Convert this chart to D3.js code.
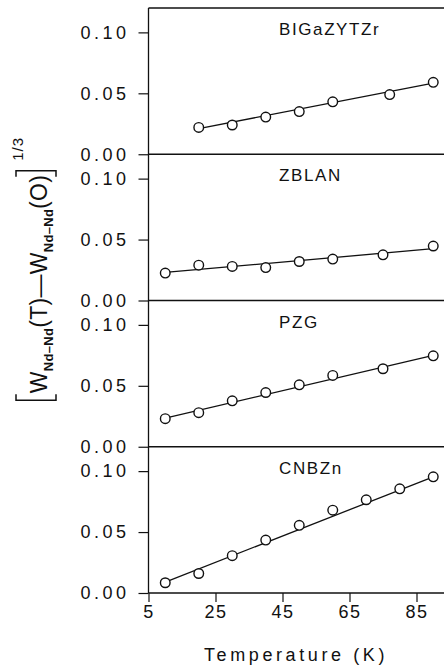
<!DOCTYPE html>
<html>
<head>
<meta charset="utf-8">
<script src="https://cdn.jsdelivr.net/npm/d3@7"></script>
<style>
body{margin:0;background:#fff;}
svg{display:block;}
text{font-family:"Liberation Sans",Arial,sans-serif;fill:#111;}
</style>
</head>
<body>
<div id="canvas"></div>
<script>
// panel names, top to bottom
var glassNames = ['BIGaZYTZr','ZBLAN','PZG','CNBZn'];

// temperatures (K) and [W(T)-W(0)]^1/3
var tBIGaZYTZr = [20,30,40,50,60,77,90];
var wBIGaZYTZr = [0.022,0.024,0.0305,0.035,0.043,0.049,0.059];
var tZBLAN = [10,20,30,40,50,60,75,90];
var wZBLAN = [0.0225,0.029,0.028,0.027,0.032,0.034,0.0375,0.0447];
var tPZG = [10,20,30,40,50,60,75,90];
var wPZG = [0.023,0.028,0.0377,0.0445,0.0508,0.0585,0.064,0.0746];
var tCNBZn = [10,20,30,40,50,60,70,80,90];
var wCNBZn = [0.0084,0.016,0.0306,0.0434,0.0555,0.068,0.0765,0.0855,0.0953];

// straight fit lines: [T start, W start, T end, W end]
var fitBIGaZYTZr = [20,0.021,90,0.0584];
var fitZBLAN = [10,0.023,90,0.0425];
var fitPZG = [10,0.0235,90,0.0749];
var fitCNBZn = [10,0.009,90,0.0953];

var xTicks = [5,25,45,65,85];
var yTicks = [0,0.05,0.10];

var panels = [
    {name:glassNames[0], t:tBIGaZYTZr, w:wBIGaZYTZr, fit:fitBIGaZYTZr},
    {name:glassNames[1], t:tZBLAN, w:wZBLAN, fit:fitZBLAN},
    {name:glassNames[2], t:tPZG, w:wPZG, fit:fitPZG},
    {name:glassNames[3], t:tCNBZn, w:wCNBZn, fit:fitCNBZn}
];

var W = 444, H = 671;
var m = {t:8, l:148.5, b:78};
var ph = (H - m.t - m.b) / panels.length;

var svg = d3.select('#canvas').append('svg')
    .attr('width',W).attr('height',H);

var scaleX = d3.scaleLinear().domain([5,95]).range([m.l, m.l + 90*3.35]);

var ink = '#111';

panels.forEach(function(p,i){
    var top = m.t + i*ph;
    var scaleY = d3.scaleLinear().domain([0,0.12]).range([top+ph, top]);
    var g = svg.append('g');

    var axisY = d3.axisLeft(scaleY)
        .tickValues(yTicks)
        .tickSize(10)
        .tickSizeOuter(0)
        .tickPadding(9)
        .tickFormat(d3.format('.2f'));
    var ay = g.append('g')
        .attr('transform','translate(' + m.l + ',0)')
        .call(axisY);
    ay.select('.domain').remove();
    ay.selectAll('line').attr('stroke',ink).attr('stroke-width',1.2);
    ay.selectAll('text')
        .attr('fill',ink)
        .style('font-size','18px')
        .style('letter-spacing','3.5px')
        .style('font-family','"Liberation Sans",Arial,sans-serif');

    // panel bottom line
    g.append('line')
        .attr('x1',m.l).attr('x2',scaleX(95))
        .attr('y1',scaleY(0)).attr('y2',scaleY(0))
        .attr('stroke',ink).attr('stroke-width',1.3);

    g.append('text')
        .attr('x',279).attr('y',top + 27)
        .style('font-size','17px')
        .style('letter-spacing','1.6px')
        .text(p.name);

    g.append('line')
        .attr('x1',scaleX(p.fit[0])).attr('y1',scaleY(p.fit[1]))
        .attr('x2',scaleX(p.fit[2])).attr('y2',scaleY(p.fit[3]))
        .attr('stroke',ink).attr('stroke-width',1.3);

    g.selectAll('circle')
        .data(p.t)
        .enter()
        .append('circle')
        .attr('cx',function(d){return scaleX(d);})
        .attr('cy',function(d,j){return scaleY(p.w[j]);})
        .attr('r',4.8)
        .attr('fill','#fff')
        .attr('stroke',ink)
        .attr('stroke-width',1.4);
});

// top border and left spine
svg.append('line')
    .attr('x1',m.l).attr('x2',scaleX(95))
    .attr('y1',m.t).attr('y2',m.t)
    .attr('stroke',ink).attr('stroke-width',1.3);
svg.append('line')
    .attr('x1',m.l).attr('x2',m.l)
    .attr('y1',m.t).attr('y2',m.t + 4*ph)
    .attr('stroke',ink).attr('stroke-width',1.3);

// x axis
var axisX = d3.axisBottom(scaleX)
    .tickValues(xTicks)
    .tickSize(9)
    .tickSizeOuter(0)
    .tickPadding(3);
var ax = svg.append('g')
    .attr('transform','translate(0,' + (m.t + 4*ph) + ')')
    .call(axisX);
ax.select('.domain').remove();
ax.selectAll('line').attr('stroke',ink).attr('stroke-width',1.2);
ax.selectAll('text')
    .attr('fill',ink)
    .style('font-size','18px')
    .style('letter-spacing','1.5px')
    .style('font-family','"Liberation Sans",Arial,sans-serif');

svg.append('text')
    .attr('x',296).attr('y',661)
    .attr('text-anchor','middle')
    .style('font-size','18px')
    .style('letter-spacing','3.6px')
    .text('Temperature  (K)');

// y axis label, rotated, with brackets
var lab = svg.append('g')
    .attr('transform','translate(47,284) rotate(-90)');
var lt = lab.append('text')
    .style('font-size','23px')
    .style('letter-spacing','0.3px');
lt.append('tspan').text('W');
lt.append('tspan').attr('dy',6).style('font-size','13px').style('font-weight','bold').text('Nd\u2013Nd');
lt.append('tspan').attr('dy',-6).text('(T)\u2014W');
lt.append('tspan').attr('dy',6).style('font-size','13px').style('font-weight','bold').text('Nd\u2013Nd');
lt.append('tspan').attr('dy',-6).text('(O)');
var len = lt.node().getComputedTextLength();
var x0 = -len/2 - 7;
lt.attr('x',-len/2);
var br = {top:-31, bot:9, arm:6};
lab.append('path')
    .attr('d','M' + (x0+br.arm) + ',' + br.top + 'H' + x0 + 'V' + br.bot + 'H' + (x0+br.arm))
    .attr('fill','none').attr('stroke',ink).attr('stroke-width',1.5);
var x1 = len/2 + 4;
lab.append('path')
    .attr('d','M' + (x1-br.arm) + ',' + br.top + 'H' + x1 + 'V' + br.bot + 'H' + (x1-br.arm))
    .attr('fill','none').attr('stroke',ink).attr('stroke-width',1.5);
lab.append('text')
    .attr('x',x1 + 10).attr('y',-24)
    .style('font-size','15px')
    .style('letter-spacing','1px')
    .text('1/3');
</script>
</body>
</html>
